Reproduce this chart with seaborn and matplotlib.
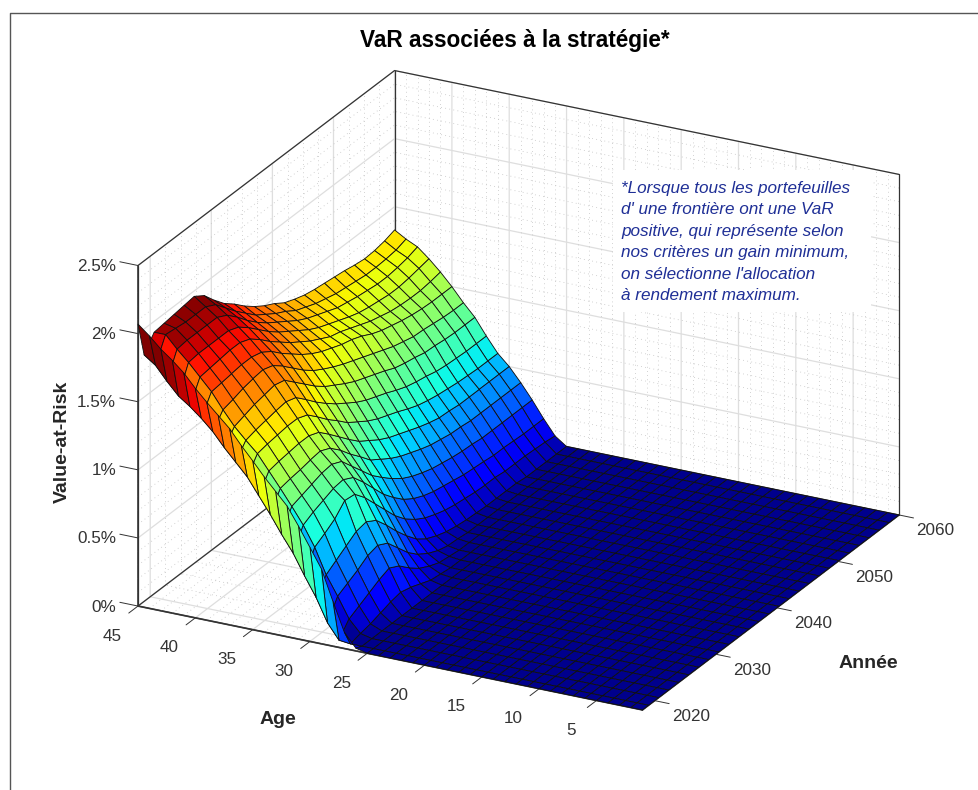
import numpy as np
import matplotlib
matplotlib.use("Agg")
import matplotlib.pyplot as plt
import seaborn as sns
from matplotlib.colors import Normalize
from matplotlib.lines import Line2D
from matplotlib.patches import Rectangle
from matplotlib.text import Text
from mpl_toolkits.mplot3d import proj3d

# ---- data (VaR in %) ----
years = [2018, 2019, 2020.64, 2022.28, 2023.92, 2025.56, 2027.2, 2028.84, 2030.48, 2032.12, 2033.76,
         2035.4, 2037.04, 2038.68, 2040.32, 2041.96, 2043.6, 2045.24, 2046.88, 2048.52, 2050.16,
         2051.8, 2053.44, 2055.08, 2056.72, 2058.36, 2060]
ages = list(range(45, 0, -1))
age_45 = [2.07,1.81,1.92,1.93,1.94,1.95,1.96,1.91,1.82,1.74,1.68,1.61,1.55,1.50,1.46,1.41,1.38,1.355,1.34,1.33,1.32,1.31,1.295,1.285,1.29,1.305,1.33]
age_44 = [2.00,1.75,1.92,1.91,1.90,1.90,1.90,1.86,1.78,1.70,1.63,1.56,1.51,1.46,1.42,1.37,1.34,1.31,1.29,1.27,1.26,1.25,1.24,1.24,1.245,1.255,1.28]
age_43 = [1.92,1.65,1.83,1.84,1.84,1.84,1.84,1.80,1.73,1.65,1.58,1.52,1.47,1.42,1.37,1.33,1.30,1.27,1.24,1.225,1.21,1.20,1.19,1.19,1.20,1.215,1.24]
age_42 = [1.855,1.56,1.75,1.76,1.76,1.76,1.76,1.73,1.67,1.60,1.53,1.47,1.42,1.37,1.32,1.28,1.25,1.22,1.19,1.165,1.15,1.14,1.13,1.13,1.14,1.155,1.17]
age_41 = [1.78,1.50,1.66,1.67,1.68,1.69,1.69,1.66,1.60,1.53,1.47,1.41,1.36,1.31,1.27,1.23,1.21,1.18,1.15,1.12,1.10,1.08,1.07,1.065,1.065,1.075,1.09]
age_40 = [1.685,1.43,1.57,1.58,1.59,1.60,1.60,1.58,1.53,1.46,1.40,1.34,1.29,1.25,1.22,1.19,1.17,1.14,1.10,1.07,1.05,1.03,1.015,1.005,1.00,1.00,1.00]
age_39 = [1.60,1.35,1.455,1.475,1.50,1.515,1.525,1.50,1.44,1.37,1.30,1.24,1.195,1.155,1.12,1.09,1.06,1.03,1.00,.97,.95,.93,.925,.915,.905,.90,.90]
age_38 = [1.52,1.25,1.35,1.375,1.40,1.415,1.43,1.41,1.34,1.27,1.20,1.14,1.095,1.05,1.01,.98,.95,.92,.885,.865,.85,.83,.825,.815,.81,.81,.81]
age_37 = [1.44,1.16,1.265,1.285,1.30,1.315,1.325,1.30,1.23,1.155,1.09,1.03,.98,.93,.89,.86,.83,.795,.765,.745,.73,.71,.70,.695,.69,.69,.69]
age_36 = [1.335,1.07,1.185,1.20,1.21,1.22,1.22,1.19,1.12,1.045,.98,.91,.86,.81,.77,.74,.71,.675,.645,.625,.61,.60,.59,.585,.58,.58,.58]
age_35 = [1.24,.95,1.075,1.09,1.10,1.11,1.11,1.08,1.01,.935,.86,.79,.74,.69,.65,.62,.59,.56,.535,.515,.51,.50,.50,.50,.50,.50,.50]
age_34 = [1.14,.83,.965,.98,.99,1.005,1.015,.98,.91,.825,.75,.67,.62,.57,.53,.50,.47,.445,.43,.415,.41,.40,.40,.40,.40,.40,.40]
age_33 = [1.05,.70,.85,.875,.90,.925,.935,.90,.81,.72,.63,.56,.495,.44,.40,.37,.345,.33,.315,.305,.30,.29,.29,.29,.29,.29,.29]
age_32 = [.96,.58,.73,.77,.80,.83,.84,.80,.71,.61,.51,.43,.36,.31,.275,.25,.235,.22,.205,.197,.19,.18,.18,.175,.17,.17,.17]
age_31 = [.83,.43,.585,.63,.68,.76,.75,.67,.57,.47,.37,.29,.23,.185,.155,.13,.115,.105,.095,.09,.09,.08,.08,.08,.075,.07,.06]
age_30 = [.69,.29,.40,.45,.50,.55,.565,.52,.43,.33,.24,.16,.105,.07,.045,.03,.02,.015,.01,.01,.01,.01,0,0,0,0,0]
age_29 = [.55,.12,.26,.30,.34,.39,.41,.37,.28,.19,.12,.07,.035,.015,.01]
age_28 = [.33,.01,.11,.15,.19,.23,.26,.22,.15,.09,.05,.02,.01]
age_27 = [.12,0,.02,.035,.06,.085,.10,.08,.05,.02,.01]
age_26 = [.02]
var_rows = [age_45, age_44, age_43, age_42, age_41, age_40, age_39, age_38, age_37, age_36,
            age_35, age_34, age_33, age_32, age_31, age_30, age_29, age_28, age_27, age_26]
year_ticks = [2020, 2030, 2040, 2050, 2060]
age_ticks = [5, 10, 15, 20, 25, 30, 35, 40, 45]
z_ticks = [0, 0.5, 1, 1.5, 2, 2.5]
z_labels = ["0%", "0.5%", "1%", "1.5%", "2%", "2.5%"]
note = ("*Lorsque tous les portefeuilles\nd' une frontière ont une VaR\n"
        "positive, qui représente selon\nnos critères un gain minimum,\n"
        "on sélectionne l'allocation\nà rendement maximum.")

# the floor: every younger age, and every later year not listed, has a VaR of zero
Z = np.zeros((len(ages), len(years)))
for i, row in enumerate(var_rows):
    Z[i, :len(row)] = row
X, Y = np.meshgrid(years, ages)

W, H = 979, 790
sns.set_theme(style="white", rc={
    "font.family": ["Liberation Sans", "DejaVu Sans"],
    "grid.color": "#dedede", "grid.linewidth": 0.9,
    "axes3d.grid": True, "text.color": "#262626",
    "xtick.color": "#333333", "ytick.color": "#333333",
    "xtick.labelsize": 12.3, "ytick.labelsize": 12.3,
})
fig = plt.figure(figsize=(W / 100, H / 100), dpi=100, facecolor="white")
ax = fig.add_axes([0.1, 0.1, 0.8, 0.8 * W / H], projection="3d", computed_zorder=False)
ax.set_proj_type("ortho")
ax.view_init(elev=23.3, azim=-152.5)
ax.set_box_aspect((556, 569, 371))
ax.set_xlim(2018, 2060, view_margin=0)
ax.set_ylim(1, 45, view_margin=0)
ax.set_zlim(0, 2.5, view_margin=0)

cmap = matplotlib.colormaps["jet"]
norm = Normalize(-0.03, 1.97)
ax.plot_surface(X, Y, Z, rstride=1, cstride=1, facecolors=cmap(norm(Z)), shade=False,
                edgecolor="#101010", linewidth=0.62, antialiased=True, zorder=5)

# axes
ax.set_xticks(year_ticks)
ax.set_yticks(age_ticks)
ax.set_zticks(z_ticks)
ax.set_zticklabels(z_labels)
tick_reach = {ax.xaxis: -0.36, ax.yaxis: -0.45, ax.zaxis: 0.45}
for a in (ax.xaxis, ax.yaxis, ax.zaxis):
    a.set_pane_color((1, 1, 1, 1))
    a.pane.set_edgecolor("none")
    a.line.set_color("#404040")
    a._axinfo["tick"].update(inward_factor=0.0, outward_factor=tick_reach[a],
                             linewidth={True: 0.7, False: 0.5}, color="#404040")
    a.set_rotate_label(False)
ax.zaxis._get_tickdir = lambda pos: 1  # z ticks run along the age axis
ax.set_xlabel("Année", fontsize=14, fontweight="bold", rotation=0)
ax.set_ylabel("Age", fontsize=14, fontweight="bold", rotation=0)
ax.set_zlabel("Value-at-Risk", fontsize=14, fontweight="bold", rotation=90)

# dotted minor grid on the two walls and the floor
minor = dict(color="#c4c4c4", linewidth=0.6, linestyle=(0, (1, 4)), zorder=1)
for yr in np.arange(2020, 2060, 2.5):
    if yr % 10:
        ax.plot([yr, yr], [45, 45], [0, 2.5], **minor)
        ax.plot([yr, yr], [1, 45], [0, 0], **minor)
for ag in range(1, 45):
    if ag % 5:
        ax.plot([2060, 2060], [ag, ag], [0, 2.5], **minor)
        ax.plot([2018, 2060], [ag, ag], [0, 0], **minor)
for zv in np.arange(0.1, 2.5, 0.1):
    if round(zv * 10) % 5:
        ax.plot([2018, 2060], [45, 45], [zv, zv], **minor)
        ax.plot([2060, 2060], [1, 45], [zv, zv], **minor)

# dark outline of the box
edge = dict(color="#333333", linewidth=0.9, zorder=2)
ax.plot([2018, 2060, 2060], [45, 45, 1], [2.5, 2.5, 2.5], **edge)
ax.plot([2018, 2060, 2060], [45, 45, 1], [0, 0, 0], **edge)
ax.plot([2018, 2018], [45, 45], [0, 2.5], **edge)
ax.plot([2060, 2060], [45, 45], [0, 2.5], **edge)
ax.plot([2060, 2060], [1, 1], [0, 2.5], **edge)
ax.plot([2018, 2018], [1, 45], [0, 0], **edge)
ax.plot([2018, 2060], [1, 1], [0, 0], **edge)

# place the axes so the box corners land where they are in the picture
def corner(x, y, z):
    xp, yp, _ = proj3d.proj_transform(x, y, z, ax.get_proj())
    return ax.transData.transform((xp, yp))

fig.canvas.draw()
p_l, p_r = corner(2018, 45, 0), corner(2060, 1, 0)
t_l, t_r = np.array([138, H - 606]), np.array([899, H - 515])
s = np.linalg.norm(t_r - t_l) / np.linalg.norm(p_r - p_l)
pos = ax.get_position()
ax.set_position([pos.x0, pos.y0, pos.width * s, pos.height * s])
fig.canvas.draw()
p_l, p_r = corner(2018, 45, 0), corner(2060, 1, 0)
d = (t_l + t_r) / 2 - (p_l + p_r) / 2
pos = ax.get_position()
ax.set_position([pos.x0 + d[0] / W, pos.y0 + d[1] / H, pos.width, pos.height])
fig.canvas.draw()

# axis titles and tick labels keep their roles but sit where the reference has them
def pin(label, px, py, ha="center", va="center"):
    Text.set_position(label, ax.transData.inverted().transform((px, H - py)))
    label.set_position = label.set_x = label.set_y = lambda *_: None
    label.set_ha(ha)
    label.set_va(va)

pin(ax.yaxis.label, 278, 720)
pin(ax.xaxis.label, 868, 664)
pin(ax.zaxis.label, 62, 442)
for t, v in zip(ax.xaxis.get_major_ticks(), year_ticks):
    c = corner(v, 1, 0)
    pin(t.label1, c[0] + 36, H - c[1] + 16)
for t, v in zip(ax.yaxis.get_major_ticks(), age_ticks):
    c = corner(2018, v, 0)
    pin(t.label1, c[0] - 26, H - c[1] + 30)
for t, v in zip(ax.zaxis.get_major_ticks(), z_ticks):
    c = corner(2018, 45, v)
    pin(t.label1, 116, H - c[1] + 1, ha="right")

fig.text(515 / W, 1 - 41 / H, "VaR associées à la stratégie*", ha="center", va="center",
         fontsize=16.3, fontweight="bold", color="black")
fig.add_artist(Rectangle((613 / W, 1 - 312 / H), 258 / W, 142 / H, transform=fig.transFigure,
                         facecolor="white", edgecolor="none", zorder=2))
fig.text(621 / W, 1 - 242 / H, note, ha="left", va="center", fontsize=12.3, style="italic",
         color="#1f2f96", linespacing=1.54, zorder=3)
fig.add_artist(Line2D([10 / W, 10 / W, 1], [0, 1 - 13 / H, 1 - 13 / H], color="#555555", linewidth=1))
fig.savefig("out.png", dpi=100)
